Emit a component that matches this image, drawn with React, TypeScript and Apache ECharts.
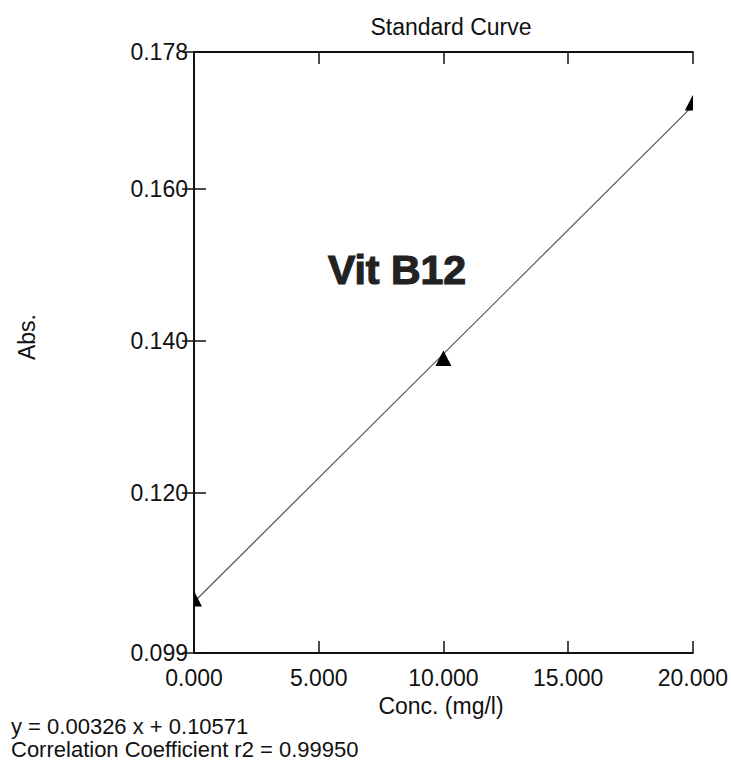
import React, { useEffect, useRef } from "react";
import * as echarts from "echarts";

const concValues = [0, 10, 20];
const absValues = [0.1061, 0.1377, 0.1713];
const fitLine = [
  [0, 0.10571],
  [20, 0.17091],
];
const yTickValues = [0.099, 0.12, 0.14, 0.16, 0.178];
const xTickValues = [0, 5, 10, 15, 20];
const titleText = "Standard Curve";
const xName = "Conc. (mg/l)";
const yName = "Abs.";
const labelText = "Vit B12";
const equationText = "y = 0.00326 x + 0.10571";
const corrText = "Correlation Coefficient r2 = 0.99950";

const FONT = "'Liberation Sans', Arial, sans-serif";

export default function App() {
  const ref = useRef<HTMLDivElement>(null);
  useEffect(() => {
    if (!ref.current) return;
    const chart = echarts.init(ref.current, null, { renderer: "svg" });
    const axisLine = { show: true, lineStyle: { color: "#111", width: 2 } };
    const tick = { show: true, inside: true, length: 12, lineStyle: { color: "#111", width: 1.5 } };
    const option: any = {
      animation: false,
      backgroundColor: "#ffffff",
      grid: { left: 194, top: 52, width: 509, height: 601, containLabel: false },
      xAxis: [
        {
          type: "value",
          min: 0,
          max: 20,
          interval: 5,
          position: "bottom",
          axisLine,
          axisTick: { ...tick, customValues: xTickValues },
          splitLine: { show: false },
          axisLabel: {
            customValues: xTickValues,
            margin: 13,
            color: "#111",
            fontSize: 23,
            fontFamily: FONT,
            formatter: (v: number) => v.toFixed(3),
          },
        },
        {
          type: "value",
          min: 0,
          max: 20,
          interval: 5,
          position: "top",
          axisLine,
          axisTick: { ...tick, customValues: xTickValues },
          splitLine: { show: false },
          axisLabel: { show: false },
        },
      ],
      yAxis: [
        {
          type: "value",
          min: 0.099,
          max: 0.178,
          position: "left",
          axisLine,
          axisTick: { ...tick, customValues: yTickValues },
          splitLine: { show: false },
          axisLabel: {
            customValues: yTickValues,
            margin: 6,
            color: "#111",
            fontSize: 23,
            fontFamily: FONT,
            formatter: (v: number) => v.toFixed(3),
          },
        },
        {
          type: "value",
          min: 0.099,
          max: 0.178,
          position: "right",
          axisLine,
          axisTick: { ...tick, customValues: yTickValues },
          splitLine: { show: false },
          axisLabel: { show: false },
        },
      ],
      series: [
        {
          type: "line",
          data: fitLine,
          symbol: "none",
          lineStyle: { color: "#555", width: 1.2 },
          clip: true,
          z: 2,
        },
        {
          type: "custom",
          clip: true,
          data: concValues.map((c, i) => [c, absValues[i]]),
          renderItem: (params: any, api: any) => {
            const p = api.coord([api.value(0), api.value(1)]);
            return {
              type: "polygon",
              shape: {
                points: [
                  [p[0], p[1] - 8],
                  [p[0] - 8, p[1] + 7.5],
                  [p[0] + 8, p[1] + 7.5],
                ],
              },
              style: { fill: "#000" },
            };
          },
          z: 3,
        },
      ],
      graphic: [
        {
          type: "text",
          x: 451,
          y: 27,
          style: { text: titleText, fontSize: 23, fontFamily: FONT, fill: "#111", textAlign: "center", textVerticalAlign: "middle" },
        },
        {
          type: "text",
          x: 397,
          y: 270,
          style: {
            text: labelText,
            fontSize: 41,
            fontWeight: "bold",
            fontFamily: FONT,
            fill: "#222",
            stroke: "#222",
            lineWidth: 1.2,
            textAlign: "center",
            textVerticalAlign: "middle",
          },
        },
        {
          type: "text",
          x: 441,
          y: 706,
          style: { text: xName, fontSize: 23, fontFamily: FONT, fill: "#111", textAlign: "center", textVerticalAlign: "middle" },
        },
        {
          type: "text",
          x: 27,
          y: 337,
          rotation: Math.PI / 2,
          style: { text: yName, fontSize: 23, fontFamily: FONT, fill: "#111", textAlign: "center", textVerticalAlign: "middle" },
        },
        {
          type: "text",
          x: 11,
          y: 715,
          style: {
            text: equationText,
            fontSize: 22,
            fontFamily: FONT,
            fill: "#111",
            textAlign: "left",
            textVerticalAlign: "top",
          },
        },
        {
          type: "text",
          x: 11,
          y: 738,
          style: {
            text: corrText,
            fontSize: 22,
            fontFamily: FONT,
            fill: "#111",
            textAlign: "left",
            textVerticalAlign: "top",
          },
        },
      ],
    };
    chart.setOption(option);
    return () => chart.dispose();
  }, []);
  return (
    <div
      ref={ref}
      style={{ position: "fixed", left: 0, top: 0, width: 731, height: 771, background: "#fff" }}
    />
  );
}
